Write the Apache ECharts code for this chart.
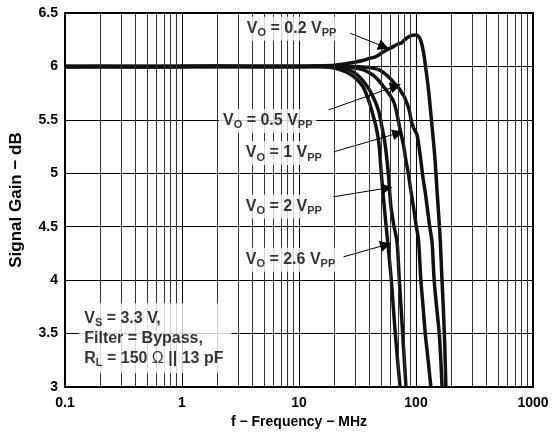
<!DOCTYPE html>
<html><head><meta charset="utf-8">
<script src="https://cdn.jsdelivr.net/npm/echarts@6/dist/echarts.min.js"></script>
<style>html,body{margin:0;padding:0;background:#fff}#c{width:555px;height:435px}</style>
</head><body><div id="c"></div>
<script>
// ---- tick labels ----
const xTicks = ['0.1', '1', '10', '100', '1000'];
const yTicks = ['3', '3.5', '4', '4.5', '5', '5.5', '6', '6.5'];
const minorGrid = [0.2,0.3,0.4,0.5,0.6,0.7,0.8,0.9, 2,3,4,5,6,7,8,9, 20,30,40,50,60,70,80,90, 200,300,400,500,600,700,800,900];

// ---- series (frequency MHz, gain dB) ----
const f02 = [0.1,0.2,0.5,1,2,5,10,15,20,25,30,35,40,45,50,55,60,65,70,75,80,86,92,98,103,108,112,116,120,124,128,132,136,141,146,151,156,161,166,171,176,180];
const g02 = [5.995,6.0,5.995,6.0,6.005,6.0,6.0,6.005,6.01,6.025,6.04,6.055,6.075,6.09,6.12,6.15,6.17,6.19,6.21,6.22,6.25,6.275,6.29,6.295,6.29,6.26,6.21,6.13,6.02,5.9,5.78,5.63,5.48,5.3,5.1,4.85,4.62,4.38,4.05,3.75,3.4,3.0];

const f05 = [0.1,1,10,20,30,40,45,50,56,61,67,71,75,79,84,88,92,97,102,106,110,115,120,125,131,137,143,150,158,163,167];
const g05 = [6.0,6.0,6.0,6.005,6.0,5.99,5.98,5.96,5.92,5.88,5.83,5.8,5.76,5.72,5.65,5.58,5.47,5.41,5.36,5.25,5.12,4.95,4.82,4.67,4.5,4.36,4.0,3.75,3.5,3.25,3.0];

const f1 = [0.1,1,10,20,25,30,35,40,46,52,60,65,69,73,78,82,86,90,95,100,105,110,115,120,127,134];
const g1 = [6.0,6.0,6.0,6.0,5.995,5.985,5.97,5.94,5.89,5.82,5.73,5.66,5.55,5.41,5.27,5.12,5.0,4.85,4.69,4.52,4.375,4.0,3.75,3.5,3.25,3.0];

const f2 = [0.1,1,10,15,20,25,30,35,40,44,48,51,54,58,61,65,69,72,77,82];
const g2 = [6.0,6.0,6.0,6.0,5.995,5.98,5.94,5.87,5.78,5.69,5.58,5.44,5.3,5.0,4.69,4.5,4.35,4.0,3.5,3.0];

const f26 = [0.1,1,10,15,18,21,25,29,33,36,40,43,45,47,48.5,50.5,53.5,58,61.5,66.5,73];
const g26 = [6.0,6.0,6.0,6.0,5.995,5.98,5.95,5.91,5.85,5.79,5.66,5.54,5.46,5.36,5.25,5.0,4.69,4.3,4.0,3.5,3.0];

const curveNames = ['0.2', '0.5', '1', '2', '2.6'];

// ---- annotation text ----
const curveLabels = ['{m|V}{s|O}{m| = 0.2 V}{s|PP}', '{m|V}{s|O}{m| = 0.5 V}{s|PP}', '{m|V}{s|O}{m| = 1 V}{s|PP}', '{m|V}{s|O}{m| = 2 V}{s|PP}', '{m|V}{s|O}{m| = 2.6 V}{s|PP}'];
const condText = '{m|V}{s|S}{m| = 3.3 V,}\n{m|Filter = Bypass,}\n{m|R}{s|L}{m| = 150 }{o|Ω}{m| || 13 pF}';

// annotation anchors (data coordinates): [freq, gain]
const labelAnchors = [[3.28, 6.353], [2.05, 5.49], [3.21, 5.19], [3.21, 4.69], [3.21, 4.19]];
const condAnchor = [0.131, 3.456];
const arrows = [
  [[27.5, 6.31], [53, 6.185]],
  [[17.9, 5.593], [67, 5.815]],
  [[19.7, 5.20], [70, 5.375]],
  [[19.7, 4.78], [56.5, 4.862]],
  [[24.0, 4.218], [55, 4.33]]
];

const FONT = 'Liberation Sans, Arial, sans-serif';
const INK = '#000';
const zip = (a, b) => a.map((x, i) => [x, b[i]]);
const curves = [[f02, g02], [f05, g05], [f1, g1], [f2, g2], [f26, g26]];

const richStyles = {
  m: {fontSize: 16, fontWeight: 'bold', fontFamily: FONT, color: INK, lineHeight: 20},
  s: {fontSize: 11, fontWeight: 'bold', fontFamily: FONT, color: INK, lineHeight: 11, verticalAlign: 'bottom'},
  o: {fontSize: 16, fontWeight: 'normal', fontFamily: FONT, color: INK, lineHeight: 20}
};

const chart = echarts.init(document.getElementById('c'), null, {renderer: 'canvas'});
const series = [];

series.push({
  type: 'line', data: [], z: 1, silent: true,
  markLine: {
    silent: true, symbol: 'none', animation: false,
    label: {show: false},
    lineStyle: {color: '#333', width: 1, type: 'solid'},
    data: minorGrid.map(v => ({xAxis: v}))
  }
});

curves.forEach((c, i) => {
  series.push({
    name: curveNames[i], type: 'line', data: zip(c[0], c[1]), z: 3,
    showSymbol: false, symbol: 'none', smooth: 0.3,
    lineStyle: {color: '#111', width: 3.5}
  });
});

series.push({
  type: 'line', data: [], z: 4, silent: true,
  itemStyle: {color: INK},
  markLine: {
    silent: true, animation: false, symbol: ['none', 'triangle'], symbolSize: 11,
    label: {show: false},
    itemStyle: {color: INK},
    lineStyle: {color: INK, width: 1, type: 'solid'},
    data: arrows.map(a => [{coord: a[0]}, {coord: a[1]}])
  }
});

series.push({
  type: 'scatter', z: 6, silent: true, symbolSize: 1,
  itemStyle: {color: 'rgba(0,0,0,0)'},
  data: labelAnchors.map((p, i) => ({value: p, label: {formatter: curveLabels[i]}})),
  label: {show: true, position: 'right', distance: 0, backgroundColor: '#fff', padding: [2, 4, 2, 4], rich: richStyles}
});

series.push({
  type: 'scatter', z: 6, silent: true, symbolSize: 1,
  itemStyle: {color: 'rgba(0,0,0,0)'},
  data: [{value: condAnchor}],
  label: {show: true, position: 'right', distance: 0, align: 'left', backgroundColor: '#fff', padding: [5, 8, 5, 5], formatter: condText, rich: richStyles}
});

chart.setOption({
  animation: false,
  backgroundColor: '#fff',
  grid: {left: 64, right: 22, top: 13, bottom: 48, show: true, borderColor: '#000', borderWidth: 2, backgroundColor: 'transparent'},
  xAxis: {
    type: 'log', logBase: 10, min: 0.1, max: 1000,
    name: 'f − Frequency − MHz', nameLocation: 'middle', nameGap: 26,
    nameTextStyle: {fontFamily: FONT, fontWeight: 'bold', fontSize: 14, color: INK},
    axisLine: {show: true, lineStyle: {color: '#000', width: 2}},
    axisTick: {show: false},
    axisLabel: {margin: 9, fontFamily: FONT, fontWeight: 'bold', fontSize: 14, color: INK,
      formatter: v => xTicks[Math.round(Math.log10(v)) + 1]},
    splitLine: {show: true, lineStyle: {color: '#000', width: 1}},
    minorTick: {show: false}, minorSplitLine: {show: false}
  },
  yAxis: {
    type: 'value', min: 3, max: 6.5, interval: 0.5,
    name: 'Signal Gain − dB', nameLocation: 'middle', nameGap: 40,
    nameTextStyle: {fontFamily: FONT, fontWeight: 'bold', fontSize: 17, color: INK},
    axisLine: {show: true, lineStyle: {color: '#000', width: 2}},
    axisTick: {show: false},
    axisLabel: {margin: 7, fontFamily: FONT, fontWeight: 'bold', fontSize: 14, color: INK,
      formatter: v => yTicks[Math.round((v - 3) / 0.5)]},
    splitLine: {show: true, lineStyle: {color: '#000', width: 1}}
  },
  series: series
});
</script>
</body></html>
